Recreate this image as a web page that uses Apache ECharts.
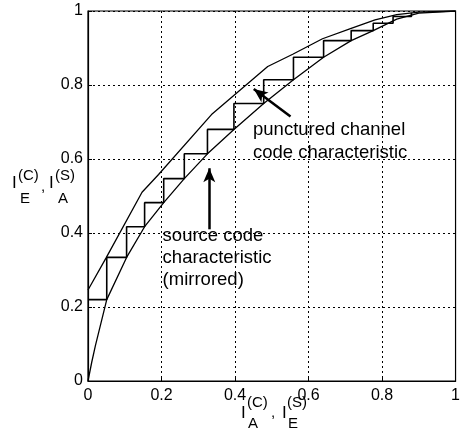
<!DOCTYPE html>
<html>
<head>
<meta charset="utf-8">
<script src="https://cdn.jsdelivr.net/npm/echarts@6/dist/echarts.min.js"></script>
<style>
html, body { margin: 0; padding: 0; background: #fff; }
#root { width: 463px; height: 432px; }
</style>
</head>
<body>
<div id="root"></div>
<script>
// source code characteristic (mirrored), lower curve
var sourceX = [0, 0.01, 0.02, 0.051, 0.105, 0.154, 0.206, 0.262, 0.325, 0.397, 0.478, 0.559, 0.641, 0.716, 0.776, 0.84, 0.9, 1];
var sourceY = [0, 0.05, 0.095, 0.22, 0.334, 0.417, 0.482, 0.547, 0.614, 0.68, 0.75, 0.814, 0.875, 0.92, 0.947, 0.978, 0.994, 1];
// punctured channel code characteristic, upper curve
var channelX = [0, 0.05, 0.147, 0.192, 0.336, 0.489, 0.557, 0.638, 0.716, 0.781, 0.84, 0.9, 1];
var channelY = [0.246, 0.334, 0.51, 0.558, 0.72, 0.85, 0.883, 0.925, 0.953, 0.976, 0.99, 0.997, 1];
// staircase: each step goes right at stepY[i-1], then up to stepY[i]
var stepX = [0, 0.051, 0.105, 0.154, 0.206, 0.262, 0.325, 0.397, 0.478, 0.559, 0.641, 0.716, 0.776, 0.83, 0.88];
var stepY = [0.22, 0.334, 0.417, 0.482, 0.547, 0.614, 0.68, 0.75, 0.814, 0.875, 0.92, 0.947, 0.967, 0.985, 0.995];
var ticks = [0, 0.2, 0.4, 0.6, 0.8, 1];

function pairs(xs, ys) {
  return xs.map(function (x, i) { return [x, ys[i]]; });
}

var font = '"Liberation Sans", Arial, sans-serif';
var myChart = echarts.init(document.getElementById('root'));

var axisCommon = {
  type: 'value',
  min: 0,
  max: 1,
  interval: 0.2,
  axisLine: { show: true, lineStyle: { color: '#000', width: 1.2 } },
  axisTick: { show: true, inside: true, length: 4, lineStyle: { color: '#000' } },
  axisLabel: {
    color: '#000', fontSize: 16, fontFamily: font,
    formatter: function (v) { return ticks.indexOf(v) >= 0 ? String(v) : ''; }
  },
  splitLine: { show: true, lineStyle: { color: '#000', type: [2, 3], width: 1 } }
};

myChart.setOption({
  animation: false,
  backgroundColor: '#fff',
  grid: {
    left: 88, right: 5, top: 11, bottom: 51,
    show: true, borderColor: '#000', borderWidth: 1.2
  },
  xAxis: Object.assign({}, axisCommon, {
    axisLabel: Object.assign({}, axisCommon.axisLabel, { margin: 7 })
  }),
  yAxis: Object.assign({}, axisCommon, {
    axisLabel: Object.assign({}, axisCommon.axisLabel, { margin: 5 })
  }),
  series: [
    {
      name: 'source',
      type: 'line',
      data: pairs(sourceX, sourceY),
      symbol: 'none',
      lineStyle: { color: '#000', width: 1.3 }
    },
    {
      name: 'channel',
      type: 'line',
      data: pairs(channelX, channelY),
      symbol: 'none',
      lineStyle: { color: '#000', width: 1.3 }
    },
    {
      name: 'stairs',
      type: 'line',
      step: 'end',
      data: pairs(stepX, stepY),
      symbol: 'none',
      lineStyle: { color: '#000', width: 1.6 },
      markLine: {
        silent: true,
        symbol: ['none', 'arrow'],
        symbolSize: [9, 14],
        label: { show: false },
        lineStyle: { color: '#000', width: 2.5, type: 'solid' },
        data: [
          [{ coord: [0.551, 0.715] }, { coord: [0.451, 0.789] }],
          [{ coord: [0.33, 0.41] }, { coord: [0.33, 0.575] }]
        ]
      }
    }
  ]
});

// annotations, anchored in data coordinates
function px(x, y) { return myChart.convertToPixel({ gridIndex: 0 }, [x, y]); }
var p1 = px(0.449, 0.709);
var p2 = px(0.203, 0.423);

function txt(x, y, s, size, extra) {
  var style = { text: s, fill: '#000', font: size + 'px ' + font, textVerticalAlign: 'middle' };
  if (extra) Object.assign(style, extra);
  return { type: 'text', x: x, y: y, style: style, z: 10 };
}

myChart.setOption({
  graphic: [
    txt(p1[0], p1[1], 'punctured channel\ncode characteristic', 18.5, { lineHeight: 23, textVerticalAlign: 'top' }),
    txt(p2[0], p2[1], 'source code\ncharacteristic\n(mirrored)', 18.5, { lineHeight: 22, textVerticalAlign: 'top' }),
    // y axis title: I_E^(C), I_A^(S)
    txt(12, 183, 'I', 17),
    txt(18, 176, '(C)', 15),
    txt(20, 199, 'E', 15),
    txt(41, 187, ',', 15),
    txt(49, 183, 'I', 17),
    txt(55, 176, '(S)', 15),
    txt(58, 199, 'A', 15),
    // x axis title: I_A^(C), I_E^(S)
    txt(241, 413, 'I', 17),
    txt(247, 403, '(C)', 15),
    txt(248, 424, 'A', 15),
    txt(271, 413, ',', 15),
    txt(282, 413, 'I', 17),
    txt(287, 403, '(S)', 15),
    txt(288, 424, 'E', 15)
  ]
});
</script>
</body>
</html>
